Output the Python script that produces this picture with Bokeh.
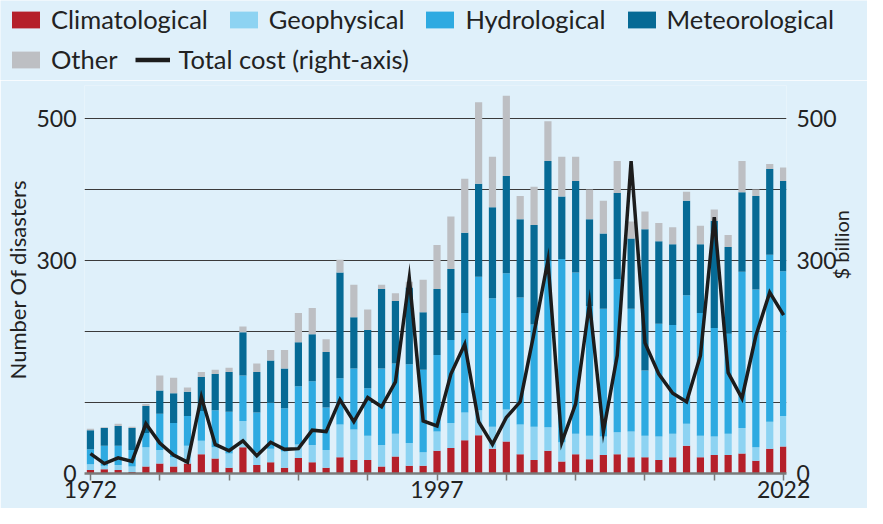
import math
from bokeh.plotting import figure
from bokeh.models import (ColumnDataSource, Range1d, LinearAxis, FixedTicker,
                          Legend, LegendItem)
from bokeh.embed import file_html
from bokeh.resources import INLINE

# ---------------- data ----------------
years = list(range(1972, 2023))
climatological = [5, 6, 5, 2, 10, 14, 10, 14, 27, 21, 8, 37, 12, 16, 8, 22, 16, 8,
                  23, 19, 19, 10, 24, 11, 11, 32, 36, 47, 54, 35, 45, 27, 19, 32,
                  17, 27, 20, 26, 27, 23, 23, 19, 23, 39, 23, 26, 26, 28, 18, 35, 38]
geophysical = [8, 5, 7, 8, 27, 19, 13, 25, 19, 16, 20, 37, 18, 19, 23, 19, 24, 25,
               46, 43, 34, 30, 32, 32, 19, 27, 35, 39, 35, 31, 45, 42, 47, 33,
               27, 29, 33, 26, 31, 36, 30, 33, 33, 31, 30, 26, 30, 36, 19, 38, 43]
hydrological = [21, 28, 27, 23, 20, 51, 48, 42, 42, 52, 59, 64, 56, 65, 61, 82, 90, 60,
                65, 86, 67, 108, 99, 111, 116, 108, 117, 140, 188, 181, 192, 179, 144, 235,
                258, 227, 183, 180, 216, 173, 92, 159, 153, 181, 173, 153, 141, 220, 222, 235, 204]
meteorological = [27, 25, 28, 31, 38, 33, 42, 34, 48, 51, 56, 61, 57, 59, 56, 62, 66, 78,
                  149, 72, 82, 112, 88, 108, 81, 93, 100, 113, 131, 128, 137, 110, 140, 140,
                  88, 129, 122, 106, 121, 99, 199, 116, 114, 133, 97, 151, 122, 112, 132, 121, 127]
other = [2, 1, 3, 2, 3, 21, 22, 6, 7, 6, 6, 8, 12, 15, 26, 41, 37, 18,
         18, 46, 29, 6, 11, 8, 46, 62, 74, 76, 115, 71, 113, 33, 54, 56,
         56, 34, 42, 46, 45, 24, 25, 26, 24, 13, 26, 16, 17, 44, 9, 7, 19]
total_cost = [28, 14, 22, 17, 70, 43, 26, 16, 108, 41, 32, 46, 25, 44, 34, 35, 61, 59,
              104, 73, 107, 94, 129, 275, 74, 67, 140, 182, 73, 41, 79, 101, 198, 300,
              44, 98, 240, 59, 166, 440, 184, 140, 113, 101, 166, 361, 142, 106, 194, 255, 223]

series = ["Climatological", "Geophysical", "Hydrological", "Meteorological", "Other"]
colors = ["#b5202a", "#8dd3f2", "#2eaae1", "#066a95", "#bdbfc3"]

x_ticks = list(range(1972, 2023, 5))
x_tick_labels = {1972: "1972", 1997: "1997", 2022: "2022"}
y_ticks = [0, 100, 200, 300, 400, 500]
y_tick_labels = {0: "0", 300: "300", 500: "500"}

# ---------------- styling ----------------
BG = "#dff0fa"
TXT = "#222222"
FONT = "Lato"
W = 867
LEG_H = 80
MAIN_H = 428

source = ColumnDataSource(dict(year=years, Climatological=climatological,
                               Geophysical=geophysical, Hydrological=hydrological,
                               Meteorological=meteorological, Other=other,
                               cost=total_cost))

# ---------------- main chart ----------------
p = figure(width=W, height=MAIN_H, output_backend="svg", toolbar_location=None,
           x_range=Range1d(1971.571, 2022.21), y_range=Range1d(0, 546.5),
           min_border_top=5, min_border_bottom=35, min_border_left=84,
           min_border_right=75)
p.background_fill_color = BG
p.border_fill_color = BG
p.outline_line_color = None
p.extra_y_ranges = {"cost": Range1d(0, 546.5)}

bars = p.vbar_stack(series, x="year", width=0.52, color=colors, source=source,
                    line_color=None)
line = p.line(x="year", y="cost", source=source, y_range_name="cost",
              line_color="#1c1c1c", line_width=3.5, line_join="miter")

p.xgrid.grid_line_color = None
p.ygrid.ticker = FixedTicker(ticks=y_ticks[1:])
p.ygrid.grid_line_color = "#3a3a3a"
p.ygrid.grid_line_width = 1

xa = p.xaxis[0]
xa.ticker = FixedTicker(ticks=x_ticks)
xa.major_label_overrides = {t: x_tick_labels.get(t, "") for t in x_ticks}
xa.axis_line_color = "#7a7a7a"
xa.axis_line_width = 2.5
xa.major_tick_line_color = "#7a7a7a"
xa.major_tick_line_width = 1.5
xa.major_tick_out = 7
xa.major_tick_in = 0
xa.minor_tick_line_color = None
xa.major_label_standoff = 0
xa.axis_label_standoff = 0
xa.major_label_text_font = FONT
xa.major_label_text_font_size = "23px"
xa.major_label_text_color = TXT

ya = p.yaxis[0]
ya.ticker = FixedTicker(ticks=y_ticks)
ya.major_label_overrides = {t: y_tick_labels.get(t, "") for t in y_ticks}
ya.axis_line_color = None
ya.major_tick_line_color = None
ya.minor_tick_line_color = None
ya.major_label_standoff = 2
ya.major_label_text_font = FONT
ya.major_label_text_font_size = "23px"
ya.major_label_text_color = TXT
ya.axis_label = "Number Of disasters"
ya.axis_label_text_font = FONT
ya.axis_label_text_font_style = "normal"
ya.axis_label_text_font_size = "22px"
ya.axis_label_text_color = TXT
ya.axis_label_standoff = 2

ra = LinearAxis(y_range_name="cost", ticker=FixedTicker(ticks=y_ticks))
ra.major_label_overrides = {t: y_tick_labels.get(t, "") for t in y_ticks}
ra.axis_line_color = None
ra.major_tick_line_color = None
ra.minor_tick_line_color = None
ra.major_label_standoff = 4
ra.major_label_text_font = FONT
ra.major_label_text_font_size = "23px"
ra.major_label_text_color = TXT
ra.axis_label = "$ billion"
ra.axis_label_orientation = math.pi / 2
ra.axis_label_text_font = FONT
ra.axis_label_text_font_style = "normal"
ra.axis_label_text_font_size = "20px"
ra.axis_label_text_color = TXT
ra.axis_label_standoff = 1
p.add_layout(ra, "right")

# ---------------- legend strip (two rows), a separate root above the chart ----------------
lf = figure(width=W, height=LEG_H, output_backend="svg", toolbar_location=None,
            x_range=Range1d(0, 1), y_range=Range1d(0, 1), min_border=0,
            x_axis_location=None, y_axis_location=None)
lf.background_fill_color = BG
lf.border_fill_color = BG
lf.outline_line_color = None
lf.grid.visible = False
# the same series (hidden): they only feed the legend keys
lbars = lf.vbar_stack(series, x="year", width=0.52, color=colors, source=source,
                      line_color=None)
lline = lf.line(x="year", y="cost", source=source, line_color="#1c1c1c",
                line_width=4.5)
for r in list(lbars) + [lline]:
    r.visible = False

def make_legend(items, vy):
    return Legend(items=items, orientation="horizontal", location=(8, vy),
                  glyph_width=35, glyph_height=21, label_standoff=8, spacing=18,
                  padding=0, margin=0, label_height=30,
                  background_fill_alpha=0, border_line_alpha=0,
                  inactive_fill_alpha=0, click_policy="none",
                  label_text_font=FONT, label_text_font_size="25.5px",
                  label_text_color=TXT)

leg1 = make_legend([LegendItem(label=s, renderers=[r]) for s, r in zip(series[:4], lbars[:4])], 46)
leg2 = make_legend([LegendItem(label=series[4], renderers=[lbars[4]]),
                    LegendItem(label="Total cost (right-axis)", renderers=[lline])], 6)
lf.add_layout(leg1)
lf.add_layout(leg2)

html = file_html([lf, p], INLINE)
html = html.replace("<body>", '<body style="background:%s">' % BG, 1)
open("out.html", "w").write(html)
